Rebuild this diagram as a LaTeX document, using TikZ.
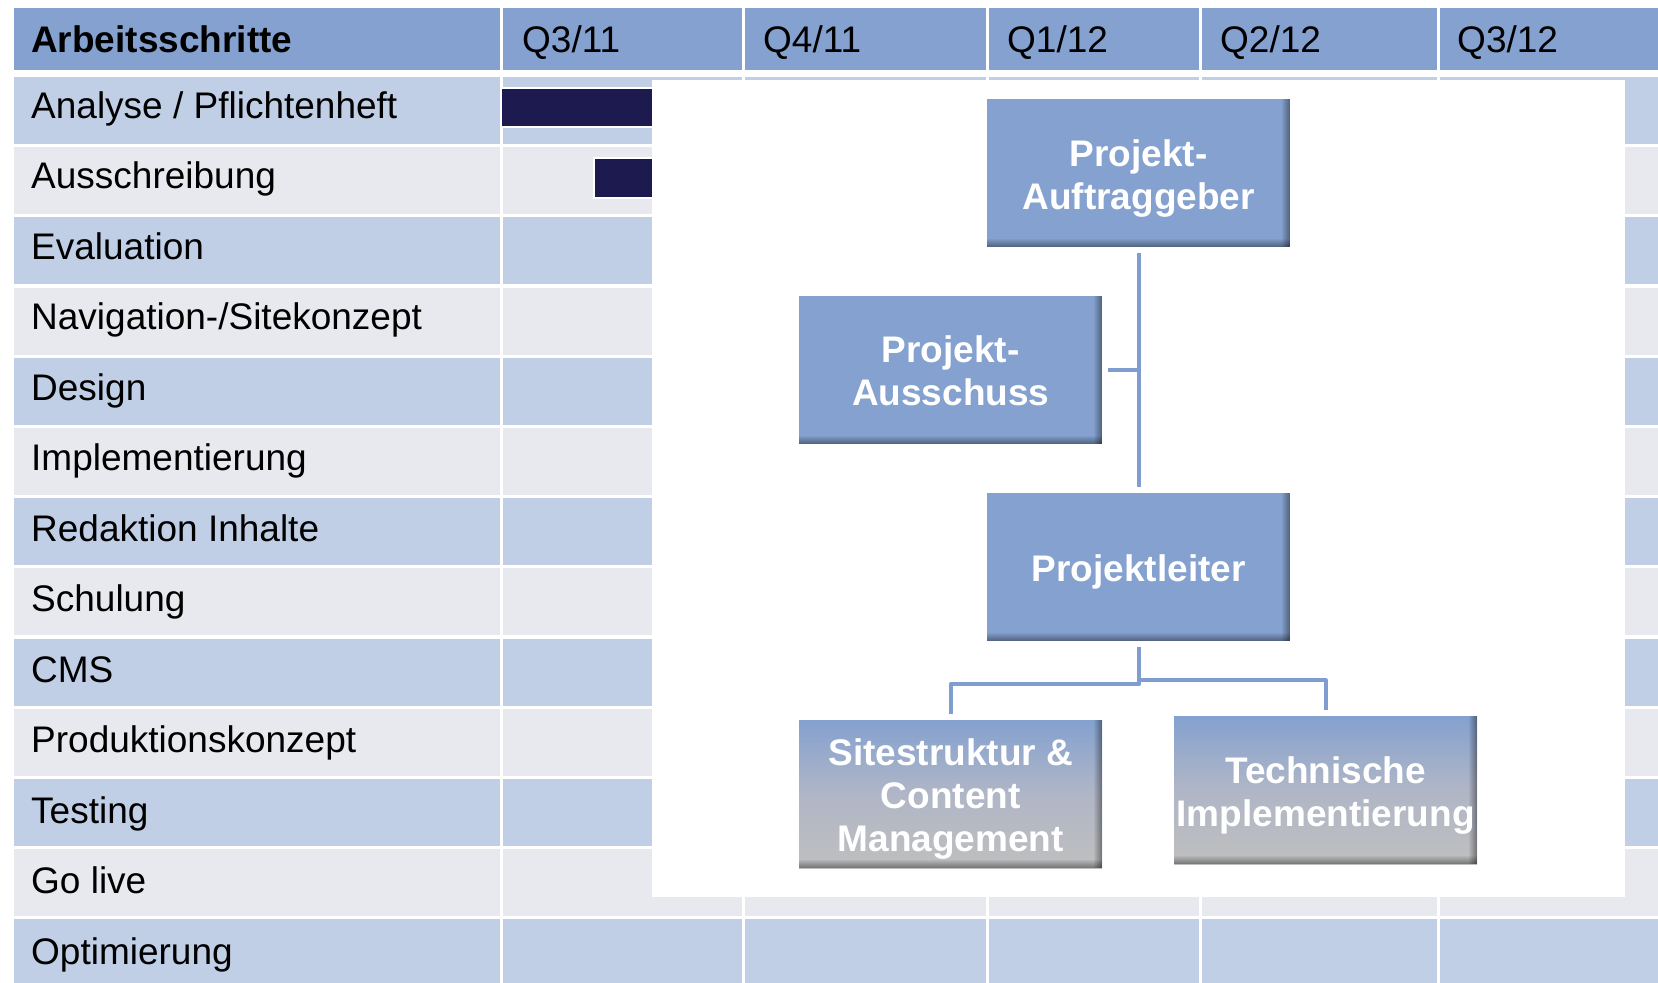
\documentclass[tikz,border=0pt]{standalone}
\usepackage{fontspec}
\setmainfont{Liberation Sans}
\definecolor{hdr}{RGB}{132,161,207}
\definecolor{rowb}{RGB}{192,207,230}
\definecolor{rowg}{RGB}{232,233,239}
\definecolor{navy}{RGB}{28,26,78}
\definecolor{boxb}{RGB}{132,161,207}
\definecolor{boxm}{RGB}{176,182,198}
\definecolor{boxg}{RGB}{191,191,191}
\definecolor{connc}{RGB}{127,157,207}
\newcommand\bevelbox[1]{%
  \foreach \k [evaluate=\k as \op using 0.045*\k] in {1,...,8}{%
    \fill[black,opacity=\op] ([xshift={-(9-\k)*1pt}]#1.north east) rectangle ([xshift={-(8-\k)*1pt}]#1.south east);
    \fill[black,opacity=\op] ([yshift={(9-\k)*1pt}]#1.south west) rectangle ([yshift={(8-\k)*1pt}]#1.south east);
  }}
\begin{document}
\begin{tikzpicture}[x=1pt,y=-1pt,
  rowtxt/.style={anchor=base west,inner sep=0pt,font=\fontsize{37}{44}\selectfont},
  hdrtxt/.style={rowtxt},
  orgbox/.style={rectangle,anchor=north west,inner sep=0pt,minimum width=303pt,minimum height=148pt},
  flatbox/.style={orgbox,fill=boxb},
  gradbox/.style={orgbox,top color=boxb,bottom color=boxg,middle color=boxm},
  boxtxt/.style={inner sep=0pt,text=white,align=center,font=\fontsize{37}{43}\selectfont\bfseries},
  conn/.style={draw=connc,line width=4pt,line join=round}]
\useasboundingbox (0,0) rectangle (1658,983);
\fill[white] (0,0) rectangle (1658,983);
\def\cols{12/501,501/743,743/987,987/1200,1200/1438,1438/1661}
% header
\foreach \a/\b in \cols {\fill[hdr] (\a+1.5,7.5) rectangle (\b-1.5,69.5);}
% rows
\foreach \i/\c in {1/rowb,2/rowg,3/rowb,4/rowg,5/rowb,6/rowg,7/rowb,8/rowg,9/rowb,10/rowg,11/rowb,12/rowg,13/rowb}{%
  \foreach \a/\b in \cols {\fill[\c] (\a+1.5,{77+(\i-1)*70.2}) rectangle (\b-1.5,{144+(\i-1)*70.2});}}
% header texts
\node[hdrtxt,font=\fontsize{37}{44}\selectfont\bfseries] (h0) at (31,52) {Arbeitsschritte};
\node[hdrtxt] (h1) at (522,52) {Q3/11};
\node[hdrtxt] (h2) at (763,52) {Q4/11};
\node[hdrtxt] (h3) at (1007,52) {Q1/12};
\node[hdrtxt] (h4) at (1220,52) {Q2/12};
\node[hdrtxt] (h5) at (1457,52) {Q3/12};
% row labels
\node[rowtxt] (l1) at (31,118) {Analyse / Pflichtenheft};
\node[rowtxt] (l2) at (31,188.5) {Ausschreibung};
\node[rowtxt] (l3) at (31,259.1) {Evaluation};
\node[rowtxt] (l4) at (31,329.6) {Navigation-/Sitekonzept};
\node[rowtxt] (l5) at (31,400.1) {Design};
\node[rowtxt] (l6) at (31,470.7) {Implementierung};
\node[rowtxt] (l7) at (31,541.2) {Redaktion Inhalte};
\node[rowtxt] (l8) at (31,611.7) {Schulung};
\node[rowtxt] (l9) at (31,682.2) {CMS};
\node[rowtxt] (l10) at (31,752.8) {Produktionskonzept};
\node[rowtxt] (l11) at (31,823.3) {Testing};
\node[rowtxt] (l12) at (31,893.8) {Go live};
\node[rowtxt] (l13) at (31,964.4) {Optimierung};
% gantt bars
\filldraw[fill=navy,draw=white,line width=1.5pt] (501,88) rectangle (665,127);
\filldraw[fill=navy,draw=white,line width=1.5pt] (594,158) rectangle (665,198);
% white panel
\fill[white] (652,80) rectangle (1625,897);
% org chart
\node[flatbox] (auf) at (987,99) {};
\node[flatbox] (aus) at (799,296) {};
\node[flatbox] (pl) at (987,493) {};
\node[gradbox] (sit) at (799,720) {};
\node[gradbox] (tech) at (1174,716) {};
\bevelbox{auf}\bevelbox{aus}\bevelbox{pl}\bevelbox{sit}\bevelbox{tech}
\node[boxtxt] (auf-t) at ([yshift=-5pt]auf.center) {Projekt-\\Auftraggeber};
\node[boxtxt] (aus-t) at ([yshift=-1pt]aus.center) {Projekt-\\Ausschuss};
\node[boxtxt] (pl-t) at ([yshift=-5pt]pl.center) {Projektleiter};
\node[boxtxt] (sit-t) at ([yshift=-5pt]sit.center) {Sitestruktur \&\\Content\\Management};
\node[boxtxt] (tech-t) at ([yshift=-5pt]tech.center) {Technische\\Implementierung};
% connectors
\coordinate (j1) at (auf.south |- aus.east);
\coordinate (jl) at ([yshift=-43pt]pl.south);
\coordinate (jr) at ([yshift=-39pt]pl.south);
\draw[conn,shorten <=6pt,shorten >=6pt] (auf.south) -- (pl.north);
\draw[conn,shorten <=6pt] (aus.east) -- (j1);
\draw[conn,shorten <=6pt,shorten >=6pt] (pl.south) -- (jl) -| (sit.north);
\draw[conn,shorten >=6pt] (jr) -| (tech.north);
\end{tikzpicture}
\end{document}
